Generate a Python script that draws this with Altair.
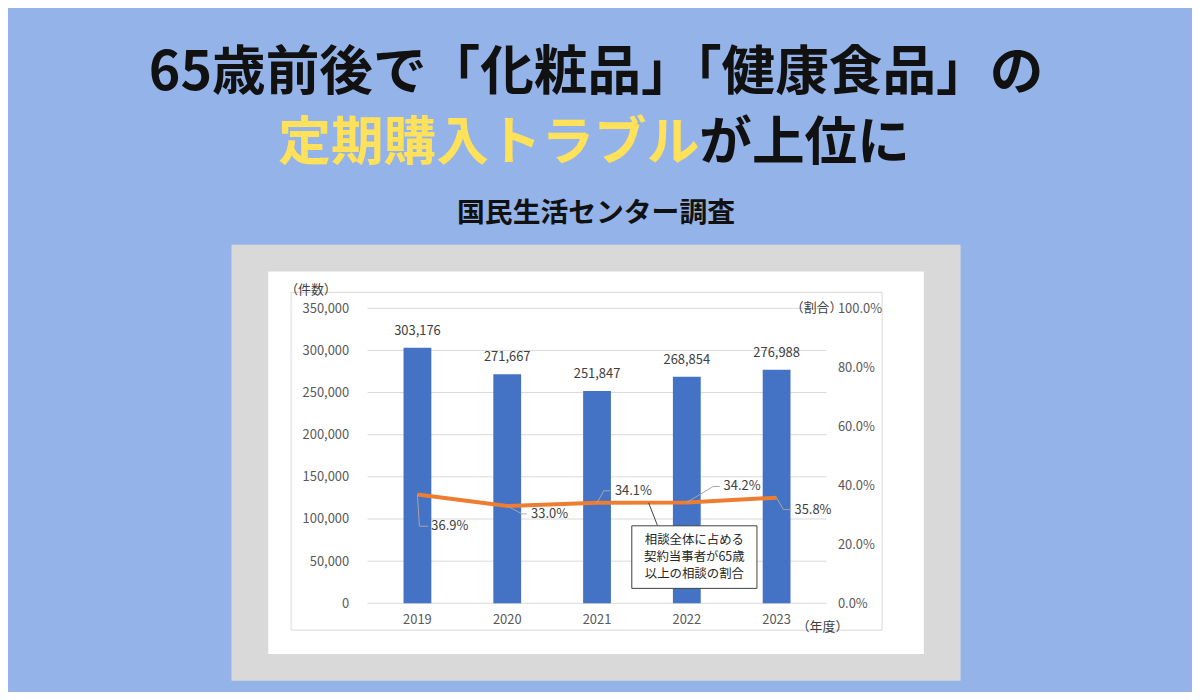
import altair as alt
import pandas as pd

# ---- data ----
years = [2019, 2020, 2021, 2022, 2023]
counts = [303176, 271667, 251847, 268854, 276988]
share = [0.369, 0.330, 0.341, 0.342, 0.358]
count_ticks = [0, 50000, 100000, 150000, 200000, 250000, 300000, 350000]
share_ticks = [0, 0.2, 0.4, 0.6, 0.8, 1.0]
note_lines = ["相談全体に占める", "契約当事者が65歳", "以上の相談の割合"]
title1 = "65歳前後で「化粧品」「健康食品」の"
title2a = "定期購入トラブル"
title2b = "が上位に"
title3 = "国民生活センター調査"

# ---- style / layout ----
W, H = 462, 297
FONT = "Noto Sans CJK JP"
BG = "#94b3e8"
BAR = "#4472c4"
LINE = "#ed7d31"
# pixel offsets (elbow, end-of-leader) for each % label, and text dx
elbow_px = [(2, 32), (15, 8), (7, -12), (27, -16), (7, 12)]
end_px = [(11, 32), (20, 8), (14, -12), (34, -16), (15, 12)]
text_dx = [14, 24, 18, 37, 18]

XDOM = [2018.5, 2023.5]
px_per_year = W / (XDOM[1] - XDOM[0])

df = pd.DataFrame({"year": years, "count": counts, "share": share})
df["year_label"] = [str(y) for y in years]
df["zero"] = 0

lead_rows = []
for y, s, el, en in zip(years, share, elbow_px, end_px):
    pts = [(0, 0), el, en]
    for k, (px, py) in enumerate(pts):
        lead_rows.append({"year": y + px / px_per_year, "share": s - py / H, "id": y, "k": k})
lead = pd.DataFrame(lead_rows)

one = pd.DataFrame({"a": [0]})

xscale = alt.Scale(domain=XDOM, nice=False, zero=False)
xq = alt.X("year:Q", scale=xscale, axis=None)

yc_scale = alt.Scale(domain=[0, 350000], nice=False)
ys_scale = alt.Scale(domain=[0, 1], nice=False)


def rect(x, x2, y, y2, fill, stroke=None):
    kw = dict(fill=fill)
    if stroke:
        kw.update(stroke=stroke, strokeWidth=1)
    return alt.Chart(one).mark_rect(**kw).encode(
        x=alt.value(x), x2=alt.value(x2), y=alt.value(y), y2=alt.value(y2))


frame = rect(-137, 597, -64, 375, "#d9d9d9")
panel = rect(-100, 560, -37, 348, "#ffffff")
border = rect(-77, 518, -16, 324, "#ffffff", "#d9d9d9")

grid = alt.Chart(pd.DataFrame({"t": count_ticks})).mark_rule(color="#d9d9d9", strokeWidth=1).encode(
    y=alt.Y("t:Q", scale=yc_scale, axis=None), x=alt.value(0), x2=alt.value(W))

bars = alt.Chart(df).mark_bar(color=BAR, size=28).encode(
    x=xq,
    y=alt.Y("count:Q", scale=yc_scale,
            axis=alt.Axis(values=count_ticks, format=",.0f", title=None, domain=False, ticks=False,
                          grid=False, labelFontSize=13, labelColor="#595959", labelPadding=19,
                          labelFont=FONT, orient="left", zindex=2)))

bar_labels = alt.Chart(df).mark_text(font=FONT, fontSize=13, color="#404040", baseline="middle", dy=-17).encode(
    x=xq, y=alt.Y("count:Q", scale=yc_scale, axis=None), text=alt.Text("count:Q", format=",.0f"))

year_labels = alt.Chart(df).mark_text(font=FONT, fontSize=13, color="#595959", baseline="middle", dy=17).encode(
    x=xq, y=alt.Y("zero:Q", scale=yc_scale, axis=None), text="year_label:N")

line = alt.Chart(df).mark_line(color=LINE, strokeWidth=4).encode(
    x=xq,
    y=alt.Y("share:Q", scale=ys_scale,
            axis=alt.Axis(values=share_ticks, format=".1%", orient="right", title=None, domain=False,
                          ticks=False, grid=False, labelFontSize=13, labelColor="#595959",
                          labelPadding=11, labelAlign="left", labelFont=FONT, zindex=2)))

leaders = alt.Chart(lead).mark_line(color="#a6a6a6", strokeWidth=1).encode(
    x=xq, y=alt.Y("share:Q", scale=ys_scale, axis=None), detail="id:N", order="k:Q")

pct_labels = [
    alt.Chart(df.iloc[[i]]).mark_text(font=FONT, fontSize=13, color="#404040", align="left",
                                      baseline="middle", dx=int(text_dx[i]), dy=int(end_px[i][1])).encode(
        x=xq, y=alt.Y("share:Q", scale=ys_scale, axis=None), text=alt.Text("share:Q", format=".1%"))
    for i in range(len(years))
]

note_box = rect(266, 392, 219, 282, "#ffffff", "#404040")
note_lead = alt.Chart(one).mark_rule(color="#404040", strokeWidth=1).encode(
    x=alt.value(283), x2=alt.value(292), y=alt.value(196), y2=alt.value(219))
note_df = pd.DataFrame({"t": note_lines, "i": range(len(note_lines))})
note_text = alt.Chart(note_df).mark_text(font=FONT, fontSize=12.5, color="#262626", baseline="middle").encode(
    x=alt.value(329), y=alt.Y("i:Q", scale=alt.Scale(domain=[0, 2], range=[233, 268]), axis=None),
    text="t:N")


def label(txt, x, y, size, color="#000000", weight="normal", align="center"):
    return alt.Chart(one).mark_text(text=txt, font=FONT, fontSize=size, color=color,
                                    fontWeight=weight, align=align, baseline="middle").encode(
        x=alt.value(x), y=alt.value(y))


unit_l = label("（件数）", -57, -18, 13, "#404040")
unit_r = label("（割合）", 452, 0, 13, "#404040")
unit_x = label("（年度）", 458, 321, 13, "#404040")

t1 = label(title1, 230, -236, 54, "#111111", "bold")
t2a = label(title2a, 334, -165, 53, "#ffe15a", "bold", "right")
t2b = label(title2b, 334, -165, 53, "#111111", "bold", "left")
t3 = label(title3, 230, -95, 28, "#111111", "bold")

chart = alt.layer(
    frame, panel, border, grid, bars, bar_labels, year_labels, line, leaders, *pct_labels,
    note_lead, note_box, note_text,
    unit_l, unit_r, unit_x, t1, t2a, t2b, t3,
).resolve_scale(y="independent").properties(
    width=W, height=H,
    padding={"left": 362, "top": 300, "right": 368, "bottom": 87},
    autosize=alt.AutoSizeParams(type="none"),
    background=BG,
).configure_view(stroke=None)

chart.save("out.html", embed_options={"renderer": "svg", "actions": False})
